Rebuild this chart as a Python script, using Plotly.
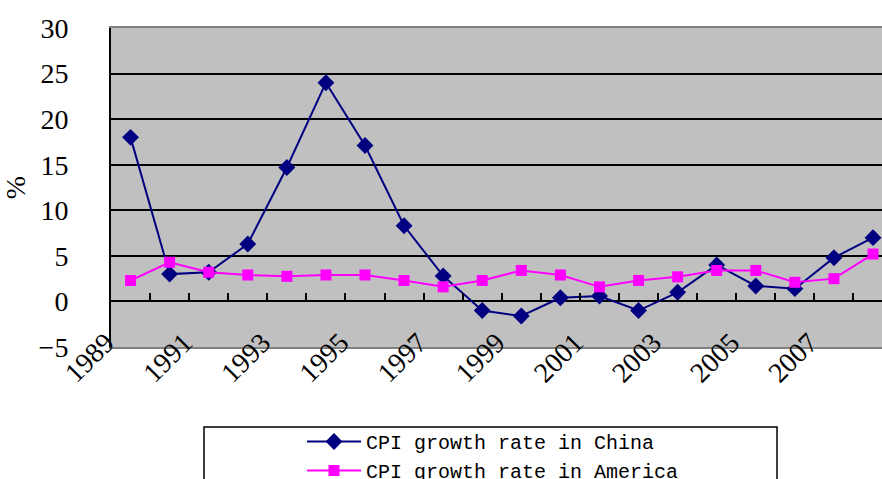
import plotly.graph_objects as go

years = list(range(1989, 2009))
china = [18.0, 3.0, 3.2, 6.3, 14.7, 24.0, 17.1, 8.3, 2.8, -1.0,
         -1.6, 0.4, 0.6, -1.0, 1.0, 4.0, 1.7, 1.4, 4.8, 7.0]
america = [2.3, 4.3, 3.2, 2.9, 2.75, 2.9, 2.9, 2.3, 1.6, 2.3,
           3.4, 2.9, 1.6, 2.3, 2.7, 3.4, 3.4, 2.1, 2.5, 5.2]
label_years = [1989, 1991, 1993, 1995, 1997, 1999, 2001, 2003, 2005, 2007]
y_ticks = [-5, 0, 5, 10, 15, 20, 25, 30]

serif = "Liberation Serif, Times New Roman, serif"
mono = "Liberation Mono, DejaVu Sans Mono, monospace"

fig = go.Figure()
fig.add_trace(go.Scatter(
    x=years, y=china, mode="lines+markers", name="CPI growth rate in China",
    line=dict(color="#000080", width=2),
    marker=dict(symbol="diamond", size=13, color="#000080"),
    legendgroup="a", cliponaxis=False,
))
fig.add_trace(go.Scatter(
    x=years, y=america, mode="lines+markers", name="CPI growth rate in America",
    line=dict(color="#FF00FF", width=2),
    marker=dict(symbol="square", size=11, color="#FF00FF"),
    legendgroup="b", cliponaxis=False,
))
# helper trace for the category tick axis at the zero line
fig.add_trace(go.Scatter(x=years, y=china, xaxis="x2", mode="markers",
                         marker=dict(opacity=0), showlegend=False, hoverinfo="skip"))

xr = [1988.5, 2008.23]
fig.update_layout(
    width=882, height=479,
    margin=dict(l=111, r=0, t=28, b=132, autoexpand=False),
    paper_bgcolor="white", plot_bgcolor="#C0C0C0",
    showlegend=True,
    xaxis=dict(
        range=xr, tickmode="array",
        tickvals=[y - 0.5 for y in label_years],
        ticktext=[str(y) for y in label_years],
        tickangle=-45, ticks="", showgrid=False, zeroline=False,
        showline=True, linecolor="#808080", linewidth=2, mirror=True,
        tickfont=dict(family=serif, size=28, color="black"),
        ticklabelshift=-5, ticklabelstandoff=-34,
        automargin=False,
    ),
    xaxis2=dict(
        range=xr, overlaying="x", anchor="free", position=5 / 35, side="top",
        tickmode="array", tickvals=[y + 0.5 for y in years],
        ticks="outside", ticklen=8, tickwidth=2, tickcolor="black",
        showticklabels=False, showgrid=False, zeroline=False, showline=False,
        automargin=False,
    ),
    yaxis=dict(
        range=[-5, 30], tickmode="array", tickvals=y_ticks,
        ticks="inside", ticklen=9, tickwidth=2, tickcolor="black",
        showgrid=True, gridcolor="black", gridwidth=2,
        zeroline=True, zerolinecolor="black", zerolinewidth=2,
        showline=True, linecolor="black", linewidth=2,
        tickfont=dict(family=serif, size=28, color="black"),
        ticklabelstandoff=35,
        title=dict(text="%", font=dict(family=serif, size=28, color="black"), standoff=12),
        automargin=False,
    ),
    legend=dict(
        x=(302 - 111) / 771, y=(347 - 422) / 319, xanchor="left", yanchor="top",
        bgcolor="rgba(0,0,0,0)", borderwidth=0,
        font=dict(family=mono, size=20, color="black"),
        tracegroupgap=0, orientation="v", maxheight=200, itemwidth=54,
    ),
    shapes=[dict(type="rect", xref="paper", yref="paper",
                 x0=(204 - 111) / 771, x1=(777 - 111) / 771,
                 y0=(347 - 427) / 319, y1=(347 - 500) / 319,
                 line=dict(color="black", width=1.5), fillcolor="rgba(0,0,0,0)")],
)

fig.write_html("out.html", post_script="document.body.style.margin='0px';",
               config={"displayModeBar": False})
